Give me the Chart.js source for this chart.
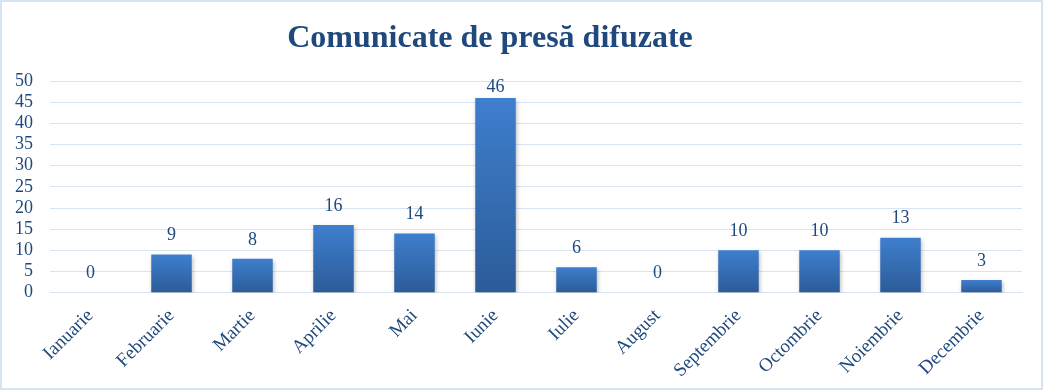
<!DOCTYPE html>
<html>
<head>
<meta charset="utf-8">
<script src="https://cdn.jsdelivr.net/npm/chart.js@4/dist/chart.umd.min.js"></script>
<style>
  html, body { margin: 0; padding: 0; background: #fff; }
  #wrap {
    position: relative;
    width: 1043px;
    height: 390px;
    border: 2px solid #D5E3F3;
    box-sizing: border-box;
  }
  #chart { display: block; }
</style>
</head>
<body>
<div id="wrap">
  <canvas id="chart" width="1039" height="386"></canvas>
</div>
<script>
// chart data
const months = ['Ianuarie', 'Februarie', 'Martie', 'Aprilie', 'Mai', 'Iunie',
                'Iulie', 'August', 'Septembrie', 'Octombrie', 'Noiembrie', 'Decembrie'];
const releases = [0, 9, 8, 16, 14, 46, 6, 0, 10, 10, 13, 3];
const chartTitle = 'Comunicate de presă difuzate';

const textColor = '#1F497D';
const serif = "'Liberation Serif', 'Times New Roman', serif";

// title drawn a bit left of centre, like the original
const titlePlugin = {
    id: 'titleText',
    afterDraw(chart) {
        const ctx = chart.ctx;
        ctx.save();
        ctx.font = 'bold 32px ' + serif;
        ctx.fillStyle = textColor;
        ctx.textAlign = 'center';
        ctx.textBaseline = 'middle';
        ctx.fillText(chartTitle, 488, 37);
        ctx.restore();
    }
};

// value labels above bars
const valueLabels = {
    id: 'valueLabels',
    afterDatasetsDraw(chart) {
        const ctx = chart.ctx;
        const meta = chart.getDatasetMeta(0);
        ctx.save();
        ctx.font = '18px ' + serif;
        ctx.fillStyle = textColor;
        ctx.textAlign = 'center';
        ctx.textBaseline = 'middle';
        meta.data.forEach((bar, i) => {
            const { x, y } = bar.getProps(['x', 'y'], true);
            const ly = Math.max(y - 19, chart.chartArea.top + 6);
            ctx.fillText(String(releases[i]), x, ly);
        });
        ctx.restore();
    }
};

// soft shadow under the bars
const barShadow = {
    id: 'barShadow',
    beforeDatasetsDraw(chart) {
        const ctx = chart.ctx;
        ctx.save();
        ctx.shadowColor = 'rgba(0, 0, 0, 0.25)';
        ctx.shadowBlur = 4;
        ctx.shadowOffsetX = 1;
        ctx.shadowOffsetY = 2;
    },
    afterDatasetsDraw(chart) {
        chart.ctx.restore();
    }
};

const ctx = document.getElementById('chart').getContext('2d');
const chart = new Chart(ctx, {
    type: 'bar',
    data: {
        labels: months,
        datasets: [{
            data: releases,
            // gradient per bar: lighter at the top, darker at the base
            backgroundColor: function(context) {
                const { ctx, chartArea, scales } = context.chart;
                if (!chartArea || !scales.y || context.parsed === undefined) { return '#3470B8'; }
                const top = scales.y.getPixelForValue(context.parsed.y);
                const bottom = scales.y.getPixelForValue(0);
                if (bottom - top < 1) { return '#3470B8'; }
                const g = ctx.createLinearGradient(0, bottom, 0, top);
                g.addColorStop(0, '#2C5B98');
                g.addColorStop(1, '#3E7FCE');
                return g;
            },
            borderWidth: 0,
            barPercentage: 0.5,
            categoryPercentage: 1.0
        }]
    },
    options: {
        responsive: false,
        animation: false,
        layout: {
            padding: { top: 79, right: 19, bottom: -6, left: 0 }
        },
        plugins: {
            legend: { display: false },
            tooltip: { enabled: false },
            title: { display: false }
        },
        scales: {
            y: {
                min: 0,
                max: 50,
                ticks: {
                    stepSize: 5,
                    autoSkip: false,
                    color: textColor,
                    font: { family: serif, size: 18 },
                    padding: 17
                },
                grid: {
                    color: '#D9E4F2',
                    lineWidth: 1,
                    drawTicks: false
                },
                border: { display: false },
                afterFit(scale) { scale.width = 48; }
            },
            x: {
                ticks: {
                    autoSkip: false,
                    color: textColor,
                    font: { family: serif, size: 19 },
                    minRotation: 45,
                    maxRotation: 45,
                    padding: 12
                },
                grid: { display: false, drawTicks: false },
                border: { color: '#D9E4F2' }
            }
        }
    },
    plugins: [barShadow, valueLabels, titlePlugin]
});
</script>
</body>
</html>
